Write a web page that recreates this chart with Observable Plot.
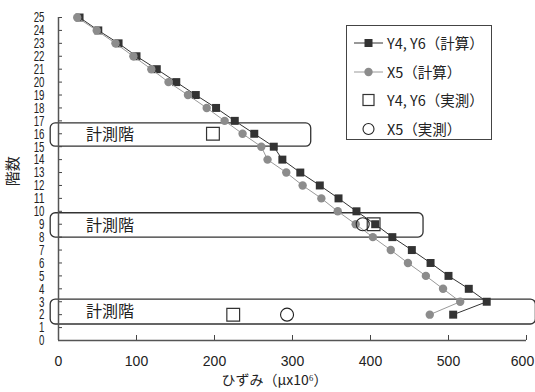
<!DOCTYPE html>
<html><head><meta charset="utf-8">
<script src="https://cdn.jsdelivr.net/npm/d3@7"></script>
<script src="https://cdn.jsdelivr.net/npm/@observablehq/plot@0.6"></script>
<style>
body{margin:0;background:#fff;}
#wrap{position:relative;width:535px;height:392px;overflow:hidden;}
#legend{position:absolute;left:346px;top:25px;width:144px;height:113px;border:1.5px solid #444;background:#fff;font-family:"Noto Sans CJK JP",sans-serif;font-size:14.5px;color:#222;}
.row{position:absolute;left:0;height:22px;display:flex;align-items:center;white-space:nowrap;}
.row svg{position:absolute;left:6px;top:0;}
.row span{position:absolute;left:40px;line-height:22px;}
</style></head><body><div id="wrap"></div>
<script>
// calculated values, floors 2..25
const floors = [2,3,4,5,6,7,8,9,10,11,12,13,14,15,16,17,18,19,20,21,22,23,24,25];
const calcY4Y6 = [506,549,526,500,477,453,428,406,382,359,335,310,287,276,251,226,202,176,151,126,100,77,51,27];
const calcX5   = [476,515,493,471,448,426,403,381,358,337,313,292,268,260,236,213,190,166,141,119,96,73,49,24];
// measured values
const measFloorsY4Y6 = [2,9,16];
const measY4Y6 = [224,404,198];
const measFloorsX5 = [2,9];
const measX5 = [293,390];
// measured-floor bands
const bandLabel = "計測階";
const bandY1 = [15.0, 7.97, 1.24];
const bandY2 = [16.8, 9.85, 3.17];
const bandX1 = [-10, -10, -10];
const bandX2 = [324, 468, 612];
const bandLabelX = 66;
// axes
const xTicks = [0,100,200,300,400,500,600];
const yTicks = d3.range(0, 26);
const xLabel = "ひずみ（μx10⁶）";
const yLabel = "階数";
const yLabelPos = 13.1;
const legendLabels = ["Y4, Y6（計算）", "X5（計算）", "Y4, Y6（実測）", "X5（実測）"];

const calcYData = floors.map((f,i)=>({floor:f, v:calcY4Y6[i]}));
const calcXData = floors.map((f,i)=>({floor:f, v:calcX5[i]}));
const measYData = measFloorsY4Y6.map((f,i)=>({floor:f, v:measY4Y6[i]}));
const measXData = measFloorsX5.map((f,i)=>({floor:f, v:measX5[i]}));
const bands = bandY1.map((y1,i)=>({y1, y2:bandY2[i], x1:bandX1[i], x2:bandX2[i], label:bandLabel}));

const dark = "#333", grey = "#8c8c8c";
const chart = Plot.plot({
  width: 535, height: 392,
  marginLeft: 58, marginRight: 9, marginTop: 17, marginBottom: 52,
  x: {domain: [0, 600], label: null},
  y: {domain: [0, 25], label: null},
  style: {fontFamily: "'Liberation Sans', Arial, sans-serif", fontSize: "14px", color: "#222", background: "white", overflow: "visible"},
  marks: [
    Plot.rect(bands, {x1: "x1", x2: "x2", y1: "y1", y2: "y2", rx: 5, fill: "none", stroke: dark, strokeWidth: 1.3}),
    Plot.text(bands, {x: () => bandLabelX, y: d => (d.y1 + d.y2) / 2, text: "label", fontFamily: "'Noto Sans CJK JP'", fontSize: 16, fill: "#222"}),
    Plot.axisY({ticks: yTicks, tickSize: -4, tickFormat: () => "", stroke: "#444", label: null}),
    Plot.axisY({ticks: yTicks, tickSize: 0, tickPadding: 14, fontSize: 15, label: null}),
    Plot.axisX({ticks: xTicks, tickSize: -5, tickFormat: () => "", stroke: "#444", label: null}),
    Plot.axisX({ticks: xTicks, tickSize: 0, tickPadding: 16, fontSize: 14, label: null}),
    Plot.ruleX([0], {stroke: "#555", strokeWidth: 1.5}),
    Plot.ruleY([0], {stroke: "#555", strokeWidth: 1.5}),
    Plot.line(calcYData, {x: "v", y: "floor", stroke: dark, strokeWidth: 1}),
    Plot.dot(calcYData, {x: "v", y: "floor", symbol: "square", r: 4.5, fill: dark, stroke: "none"}),
    Plot.line(calcXData, {x: "v", y: "floor", stroke: "#999", strokeWidth: 1}),
    Plot.dot(calcXData, {x: "v", y: "floor", r: 4.2, fill: grey, stroke: "none"}),
    Plot.dot(measYData, {x: "v", y: "floor", symbol: "square", r: 7.2, fill: "none", stroke: dark, strokeWidth: 1.2}),
    Plot.dot(measXData, {x: "v", y: "floor", r: 6.5, fill: "none", stroke: "#222", strokeWidth: 1.1}),
    Plot.text([xLabel], {frameAnchor: "bottom", dx: -18, dy: 44, fontFamily: "'Noto Sans CJK JP'", fontSize: 14, fill: "#222"}),
    Plot.text([yLabel], {y: () => yLabelPos, frameAnchor: "left", textAnchor: "middle", lineAnchor: "middle", dx: -45, rotate: -90, fontFamily: "'Noto Sans CJK JP'", fontSize: 15, fill: "#222"})
  ]
});
// compress y tick labels horizontally like the reference's narrow font
chart.querySelectorAll('g[aria-label="y-axis tick label"] text').forEach(t => {
  const s = t.textContent;
  if (s) { t.setAttribute("textLength", s.length * 5.4); t.setAttribute("lengthAdjust", "spacingAndGlyphs"); }
});
// keep the last x tick label inside the picture, as in the reference
const xl = Array.from(chart.querySelectorAll('g[aria-label="x-axis tick label"] text')).filter(t => t.textContent);
if (xl.length) {
  const last = xl[xl.length - 1];
  const tr = last.getAttribute("transform");
  if (tr) last.setAttribute("transform", tr + " translate(-4,0)");
  else last.setAttribute("x", (+last.getAttribute("x") || 0) - 4);
}
const wrap = document.getElementById("wrap");
wrap.appendChild(chart);

// legend
const legend = document.createElement("div");
legend.id = "legend";
const symbols = [
  `<line x1="1" x2="30" y1="11" y2="11" stroke="${dark}"/><rect x="11.5" y="7" width="8" height="8" fill="${dark}"/>`,
  `<line x1="1" x2="30" y1="11" y2="11" stroke="#999"/><circle cx="15.5" cy="11" r="4.2" fill="${grey}"/>`,
  `<rect x="10" y="5.5" width="11" height="11" fill="none" stroke="${dark}" stroke-width="1.2"/>`,
  `<circle cx="15.5" cy="11" r="5.5" fill="none" stroke="#222" stroke-width="1.1"/>`
];
legendLabels.forEach((lab, i) => {
  const row = document.createElement("div");
  row.className = "row";
  row.style.top = (17 + i * 28.5 - 11) + "px";
  row.style.width = "144px";
  row.innerHTML = `<svg width="32" height="22">${symbols[i]}</svg><span>${lab}</span>`;
  legend.appendChild(row);
});
wrap.appendChild(legend);
</script>
</body></html>
